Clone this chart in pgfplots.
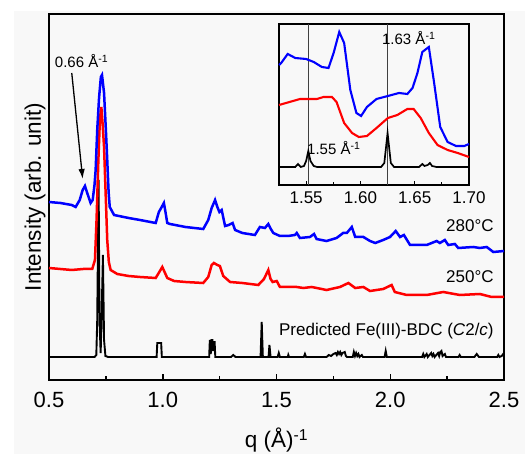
\documentclass[border=0pt]{standalone}
\usepackage{fontspec}
\setmainfont{Liberation Sans}
\usepackage{pgfplots}
\pgfplotsset{compat=1.18}
\usetikzlibrary{arrows.meta}

\definecolor{bg}{RGB}{248,248,248}
\definecolor{pblue}{RGB}{0,0,255}
\definecolor{pred}{RGB}{255,0,0}

\begin{document}
\begin{tikzpicture}
  \path[use as bounding box] (-49pt,-74pt) rectangle (476pt,380pt);
  \fill[white] (-49pt,-74pt) rectangle (476pt,380pt);
  \fill[bg] (-35pt,-74pt) rectangle (476pt,369pt);

  \begin{axis}[
      at={(0pt,0pt)}, anchor=south west,
      scale only axis, width=455pt, height=366pt,
      xmin=0.5, xmax=2.5, ymin=0, ymax=366,
      xtick={0.5,1.0,1.5,2.0,2.5}, minor x tick num=1,
      ytick=\empty,
      xtick pos=bottom, tick align=inside,
      major tick length=6pt, minor tick length=3.5pt,
      every tick/.style={black, line width=1.5pt},
      axis line style={line width=2.5pt},
      x tick label style={/pgf/number format/fixed, /pgf/number format/fixed zerofill,
        /pgf/number format/precision=1, /pgf/number format/assume math mode=true,
        font=\fontsize{22}{25}\selectfont, yshift=-9pt},
      label style={font=\fontsize{22.5}{26}\selectfont},
      xlabel style={yshift=-13pt},
      xlabel={q (Å)\textsuperscript{-1}},
      ylabel={Intensity (arb. unit)},
      clip=false,
    ]
    % black: predicted pattern
    \addplot[black, line width=1.9pt] coordinates {
      (0.5,23) (0.70,23) (0.708,25) (0.712,60) (0.718,200) (0.722,60) (0.727,27)
      (0.731,60) (0.737,125) (0.742,40) (0.748,24) (0.76,23) (0.973,23) (0.976,37)
      (0.993,37) (0.996,23) (1.204,23) (1.207,40) (1.211,26) (1.214,40) (1.218,40)
      (1.221,29) (1.224,38) (1.228,38) (1.231,23) (1.30,23) (1.31,25) (1.32,23)
      (1.43,23) (1.435,58) (1.44,23) (1.465,23) (1.469,35) (1.474,23) (1.505,23)
      (1.51,27) (1.515,23) (1.55,23) (1.552,25) (1.555,23) (1.62,23) (1.625,26)
      (1.63,23) (1.72,23) (1.73,25) (1.74,24) (1.75,26) (1.76,27) (1.765,25)
      (1.77,28) (1.775,26) (1.78,28) (1.785,25) (1.79,27) (1.80,28) (1.805,24)
      (1.81,23) (1.835,23) (1.84,28) (1.845,24) (1.85,27) (1.855,24) (1.86,26)
      (1.865,23) (1.875,25) (1.88,23) (1.975,23) (1.98,29) (1.985,23) (2.14,23)
      (2.145,26) (2.15,23) (2.16,26) (2.165,23) (2.18,27) (2.185,24) (2.19,26)
      (2.195,23) (2.21,27) (2.215,24) (2.22,28) (2.225,29) (2.23,24) (2.24,26)
      (2.245,23) (2.30,23) (2.305,25) (2.31,23) (2.37,23) (2.38,26) (2.39,23)
      (2.47,23) (2.475,25) (2.48,23) (2.49,24) (2.5,27)};
    % red: 250 C
    \addplot[pred, line width=2.5pt] coordinates {
      (0.50,112) (0.55,111) (0.60,110) (0.65,111) (0.69,111) (0.702,120) (0.709,160)
      (0.717,220) (0.724,262) (0.73,273) (0.736,255) (0.742,233) (0.75,180)
      (0.756,140) (0.763,118) (0.771,110) (0.80,106) (0.85,104) (0.90,103)
      (0.969,102) (0.985,108) (0.998,113) (1.01,107) (1.02,102) (1.05,99) (1.10,98)
      (1.178,97) (1.20,103) (1.215,115) (1.225,117) (1.24,115) (1.251,114)
      (1.266,104) (1.296,98) (1.35,97) (1.42,95) (1.445,101) (1.464,110) (1.474,101)
      (1.483,98) (1.501,99) (1.515,93) (1.589,93) (1.618,92) (1.655,93) (1.72,90)
      (1.779,93) (1.816,97) (1.846,92) (1.882,93) (1.911,89) (1.969,91) (2.006,95)
      (2.02,88) (2.072,85) (2.16,85) (2.233,88) (2.306,85) (2.394,86) (2.446,83)
      (2.5,83)};
    % blue: 280 C
    \addplot[pblue, line width=2.5pt] coordinates {
      (0.50,178) (0.55,177) (0.60,175) (0.617,173) (0.635,180) (0.648,190)
      (0.658,194) (0.668,187) (0.683,177) (0.692,180) (0.70,195) (0.705,210)
      (0.712,250) (0.72,282) (0.728,303) (0.733,305) (0.742,287) (0.75,250)
      (0.756,220) (0.762,188) (0.767,173) (0.786,165) (0.85,162) (0.90,160)
      (0.969,157) (0.983,168) (0.993,172) (1.005,177) (1.012,168) (1.02,157)
      (1.032,156) (1.10,153) (1.178,151) (1.20,160) (1.215,172) (1.23,180)
      (1.24,173) (1.249,168) (1.259,170) (1.274,154) (1.29,155) (1.307,157)
      (1.318,150) (1.35,147) (1.405,145) (1.427,153) (1.449,152) (1.464,156)
      (1.475,151) (1.486,147) (1.515,144) (1.55,144) (1.581,145) (1.589,147)
      (1.603,142) (1.647,143) (1.665,146) (1.676,141) (1.72,139) (1.764,142)
      (1.793,147) (1.809,147) (1.831,153) (1.846,143) (1.882,143) (1.911,139)
      (1.934,137) (1.969,140) (1.999,143) (2.024,149) (2.043,143) (2.06,145)
      (2.087,135) (2.16,135) (2.204,139) (2.218,137) (2.24,140) (2.255,135)
      (2.284,136) (2.299,132) (2.365,133) (2.394,132) (2.424,133) (2.453,128)
      (2.5,129)};

    \node[font=\fontsize{17}{19}\selectfont, anchor=east] at (axis cs:2.47,154) {280°C};
    \node[font=\fontsize{17}{19}\selectfont, anchor=east] at (axis cs:2.47,103) {250°C};
    \node[font=\fontsize{17}{19}\selectfont, anchor=east] at (axis cs:2.47,49) {Predicted Fe(III)-BDC (\textit{C}2/\textit{c})};
    \node[font=\fontsize{15}{17}\selectfont] at (axis cs:0.643,319) {0.66 Å\textsuperscript{-1}};
    \draw[line width=1.3pt, -{Latex[length=10pt,width=6.5pt]}] (axis cs:0.600,307) -- (axis cs:0.648,201);
  \end{axis}

  \begin{axis}[
      at={(230pt,195pt)}, anchor=south west,
      scale only axis, width=190pt, height=161pt,
      xmin=1.525, xmax=1.70, ymin=0, ymax=161,
      xtick={1.55,1.60,1.65,1.70}, minor x tick num=1,
      ytick=\empty,
      xtick pos=bottom, tick align=inside,
      major tick length=4pt, minor tick length=3pt,
      every tick/.style={black, line width=1.2pt},
      axis line style={line width=1.8pt},
      axis background/.style={fill=bg},
      x tick label style={/pgf/number format/fixed, /pgf/number format/fixed zerofill,
        /pgf/number format/precision=2, /pgf/number format/assume math mode=true,
        font=\fontsize{17}{19}\selectfont, yshift=-3pt},
      clip=false,
    ]
    \addplot[black!75, line width=1.1pt] coordinates {(1.552,0) (1.552,161)};
    \addplot[black!75, line width=1.1pt] coordinates {(1.625,0) (1.625,161)};
    \addplot[black, line width=1.7pt] coordinates {
      (1.525,18) (1.540,18) (1.5425,21) (1.545,18) (1.548,19) (1.550,24) (1.552,34)
      (1.554,24) (1.557,19) (1.56,18) (1.619,18) (1.622,22) (1.625,52) (1.628,22)
      (1.631,18) (1.654,18) (1.657,21) (1.659,19) (1.662,20) (1.664,22) (1.666,19)
      (1.67,18) (1.70,18)};
    \addplot[pred, line width=2.1pt] coordinates {
      (1.525,80) (1.5444,86) (1.5599,86) (1.566,88) (1.5738,88) (1.578,83)
      (1.585,62) (1.5923,52) (1.5985,48) (1.606,49) (1.6148,57) (1.6253,67)
      (1.634,70) (1.6432,76) (1.649,76) (1.6555,67) (1.663,52) (1.671,40)
      (1.6803,35) (1.6896,32) (1.70,28)};
    \addplot[pblue, line width=2.1pt] coordinates {
      (1.525,120) (1.527,122) (1.533,131) (1.540,127) (1.55,126) (1.557,123)
      (1.5645,118) (1.5706,117) (1.5753,132) (1.5805,153) (1.585,142)
      (1.5907,95) (1.5963,72) (1.6006,69) (1.606,78) (1.6148,86) (1.6253,89)
      (1.6355,92) (1.6432,91) (1.648,97) (1.6525,112) (1.657,133) (1.663,138)
      (1.6679,102) (1.6735,58) (1.6803,43) (1.688,39) (1.6957,39) (1.70,41)};
    \node[font=\fontsize{15}{17}\selectfont] at (axis cs:1.6445,147) {1.63 Å\textsuperscript{-1}};
    \node[font=\fontsize{15}{17}\selectfont] at (axis cs:1.5755,37) {1.55 Å\textsuperscript{-1}};
  \end{axis}
\end{tikzpicture}
\end{document}
